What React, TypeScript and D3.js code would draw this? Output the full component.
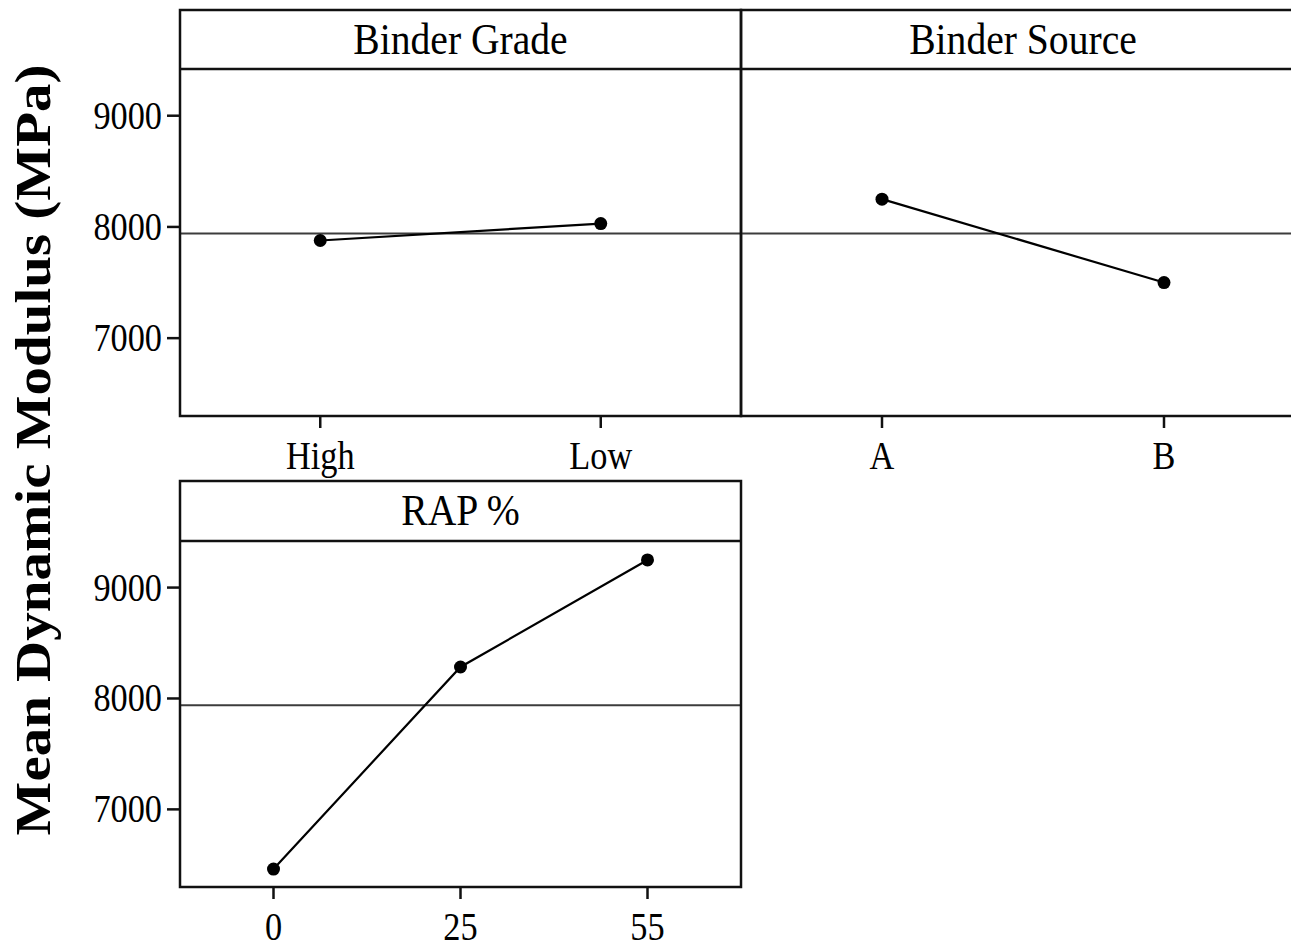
import React from "react";
import * as d3 from "d3";

// ---- data ----
const gradeLevels = ["High", "Low"];
const gradeMeans = [7878, 8030];
const sourceLevels = ["A", "B"];
const sourceMeans = [8250, 7500];
const rapLevels = ["0", "25", "55"];
const rapMeans = [6462, 8284, 9249];
const grandMean = 7940;
const yTicks = [7000, 8000, 9000];
const yDomain = [6300, 9420];
const panelTitles = ["Binder Grade", "Binder Source", "RAP %"];
const yLabel = "Mean Dynamic Modulus (MPa)";

const FONT = "Liberation Serif, serif";
const SX = 0.88;

type PanelProps = {
  title: string;
  levels: string[];
  means: number[];
  x0: number;
  x1: number;
  top: number;
  headerBottom: number;
  bottom: number;
  showYAxis: boolean;
};

function Panel({ title, levels, means, x0, x1, top, headerBottom, bottom, showYAxis }: PanelProps) {
  const x = d3.scalePoint<string>().domain(levels).range([x0, x1]).padding(0.5);
  const y = d3.scaleLinear().domain(yDomain).range([bottom, headerBottom]);
  const pts: [number, number][] = levels.map((l, i) => [x(l) as number, y(means[i])]);
  const line = d3.line()(pts) as string;
  const cx = (x0 + x1) / 2;
  const headerMid = (top + headerBottom) / 2;
  return (
    <g>
      <line x1={x0} x2={x1} y1={y(grandMean)} y2={y(grandMean)} stroke="#3c3c3c" strokeWidth={2} />
      <rect x={x0} y={top} width={x1 - x0} height={bottom - top} fill="none" stroke="#111" strokeWidth={2.5} />
      <line x1={x0} x2={x1} y1={headerBottom} y2={headerBottom} stroke="#111" strokeWidth={2.5} />
      <text
        transform={`translate(${cx},${headerMid + 14}) scale(${SX},1)`}
        textAnchor="middle"
        fontFamily={FONT}
        fontSize={45}
        fill="#000"
      >
        {title}
      </text>
      <path d={line} fill="none" stroke="#000" strokeWidth={2.2} />
      {pts.map((p, i) => (
        <ellipse key={i} cx={p[0]} cy={p[1]} rx={6.5} ry={6.5} fill="#000" />
      ))}
      {levels.map((l) => (
        <g key={l}>
          <line x1={x(l)} x2={x(l)} y1={bottom} y2={bottom + 12} stroke="#111" strokeWidth={2.5} />
          <text
            transform={`translate(${x(l)},${bottom + 53}) scale(${SX},1)`}
            textAnchor="middle"
            fontFamily={FONT}
            fontSize={39}
            fill="#000"
          >
            {l}
          </text>
        </g>
      ))}
      {showYAxis &&
        yTicks.map((t) => (
          <g key={t}>
            <line x1={x0 - 13} x2={x0} y1={y(t)} y2={y(t)} stroke="#111" strokeWidth={2.5} />
            <text
              transform={`translate(${x0 - 18},${y(t) + 13}) scale(${SX},1)`}
              textAnchor="end"
              fontFamily={FONT}
              fontSize={39}
              fill="#000"
            >
              {t}
            </text>
          </g>
        ))}
    </g>
  );
}

export default function App() {
  const W = 1291;
  const H = 947;
  return (
    <svg
      width={W}
      height={H}
      viewBox={`0 0 ${W} ${H}`}
      style={{ position: "absolute", left: 0, top: 0, background: "#fff" }}
    >
      <rect x={0} y={0} width={W} height={H} fill="#fff" />
      <Panel
        title={panelTitles[0]}
        levels={gradeLevels}
        means={gradeMeans}
        x0={180}
        x1={741}
        top={10}
        headerBottom={69}
        bottom={416}
        showYAxis={true}
      />
      <Panel
        title={panelTitles[1]}
        levels={sourceLevels}
        means={sourceMeans}
        x0={741}
        x1={1305}
        top={10}
        headerBottom={69}
        bottom={416}
        showYAxis={false}
      />
      <Panel
        title={panelTitles[2]}
        levels={rapLevels}
        means={rapMeans}
        x0={180}
        x1={741}
        top={481}
        headerBottom={541}
        bottom={887}
        showYAxis={true}
      />
      <text
        transform={`translate(50,450) scale(${SX},1) rotate(-90)`}
        textAnchor="middle"
        fontFamily={FONT}
        fontWeight="bold"
        fontSize={57}
        fill="#000"
      >
        {yLabel}
      </text>
    </svg>
  );
}
